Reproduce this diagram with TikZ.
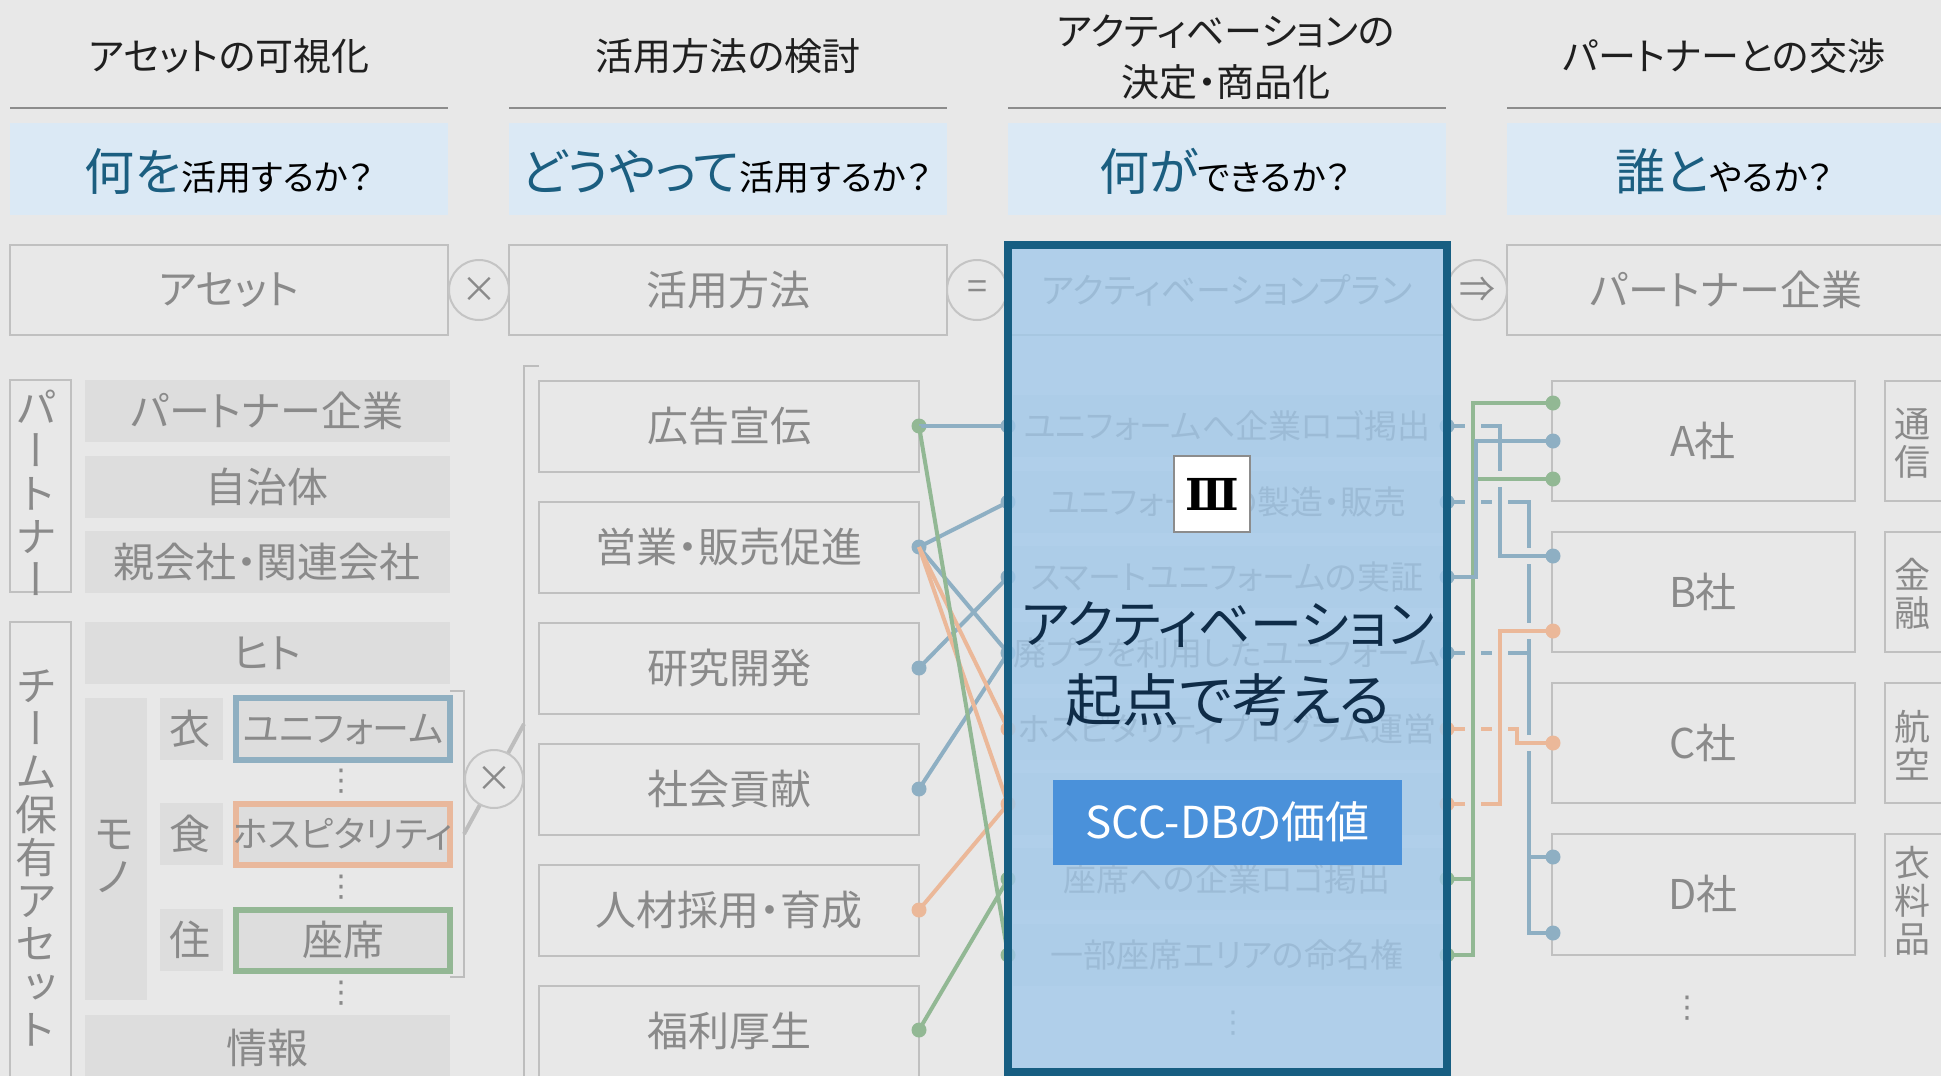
\documentclass[tikz,border=0pt]{standalone}
\usepackage{fontspec}
\setmainfont{Noto Sans CJK JP}[RawFeature=+palt]
\newfontfamily\jpv{Noto Sans CJK JP}[RawFeature=+vert]
\newfontfamily\dvserif{DejaVu Serif}
\newfontfamily\dvsans{DejaVu Sans}
\newcommand\fsz[2]{\fontsize{#1}{#2}\selectfont}
\definecolor{bgc}{HTML}{E8E8E8}
\definecolor{boxgray}{HTML}{DDDDDD}
\definecolor{txtgray}{HTML}{8A8A8A}
\definecolor{bordergray}{HTML}{C0C0C0}
\definecolor{circgray}{HTML}{C4C4C4}
\definecolor{brkgray}{HTML}{BDBDBD}
\definecolor{hline}{HTML}{8C8C8C}
\definecolor{qfill}{HTML}{DBE9F5}
\definecolor{qblue}{HTML}{1B5E80}
\definecolor{cblue}{HTML}{8EAFC3}
\definecolor{corange}{HTML}{EBB899}
\definecolor{cgreen}{HTML}{92B894}
\definecolor{cframe}{HTML}{175E82}
\definecolor{ovl}{RGB}{161,201,235}
\definecolor{navy}{HTML}{0F2C48}
\definecolor{sccblue}{HTML}{4A91DA}
\definecolor{uniB}{HTML}{8FAFC1}
\definecolor{hospO}{HTML}{E9B89C}
\definecolor{seatG}{HTML}{93B794}
\begin{document}
\begin{tikzpicture}[x=1pt,y=-1pt,
  every node/.style={inner sep=0pt,outer sep=0pt},
  title/.style={font=\fsz{38}{51}, text=black!88, align=center},
  hdl/.style={draw=hline, line width=2.5},
  rowbox/.style={draw=bordergray, line width=2},
  glabel/.style={text=txtgray, font=\fsz{41}{41}},
  vlabel/.style={text=txtgray, font=\jpv\fsz{42}{43}, align=center},
  clabel/.style={text=txtgray, font=\jpv\fsz{36}{38}, align=center},
  plan/.style={text=txtgray, font=\fsz{33}{33}},
  vdts/.style={text=txtgray, font=\dvsans\fsz{30}{30}},
  opc/.style={circle, draw=circgray, line width=2, fill=bgc, minimum size=60, text=txtgray, font=\fsz{36}{36}},
  brk/.style={draw=brkgray, line width=2.5},
  conn/.style={line width=4},
  halo/.style={preaction={draw=bgc, line width=16}},
  dot/.style={circle, minimum size=15},
]
\useasboundingbox (0,0) rectangle (1941,1076);
\fill[bgc] (0,0) rectangle (1941,1076);

% ---------- headers ----------
\node[title] (h1) at (229,56) {アセットの可視化};
\node[title] (h2) at (728,56) {活用方法の検討};
\node[title] (h3) at (1226,57) {アクティベーションの\\決定・商品化};
\node[title] (h4) at (1724,56) {パートナーとの交渉};
\draw[hdl] (10,108) -- (448,108);
\draw[hdl] (509,108) -- (947,108);
\draw[hdl] (1008,108) -- (1446,108);
\draw[hdl] (1507,108) -- (1941,108);

% ---------- question boxes ----------
\fill[qfill] (10,123) rectangle (448,215);
\fill[qfill] (509,123) rectangle (947,215);
\fill[qfill] (1008,123) rectangle (1446,215);
\fill[qfill] (1507,123) rectangle (1941,215);
\node[anchor=base] (q1) at (229,190) {\textcolor{qblue}{\fsz{50}{50}何を}\fsz{35}{35}活用するか？};
\node[anchor=base] (q2) at (726,190) {\textcolor{qblue}{\fsz{50}{50}どうやって}\fsz{35}{35}活用するか？};
\node[anchor=base] (q3) at (1225,190) {\textcolor{qblue}{\fsz{50}{50}何が}\fsz{35}{35}できるか？};
\node[anchor=base] (q4) at (1724,190) {\textcolor{qblue}{\fsz{50}{50}誰と}\fsz{35}{35}やるか？};

% ---------- row header boxes ----------
\draw[rowbox] (10,245) rectangle (448,335);
\node[glabel] (r1) at (229,290) {アセット};
\draw[rowbox] (509,245) rectangle (947,335);
\node[glabel] (r2) at (728,290) {活用方法};
\draw[rowbox] (1008,245) rectangle (1446,335);
\node[glabel, font=\fsz{35}{35}] (r3) at (1227,290) {アクティベーションプラン};
\draw[rowbox] (1507,245) rectangle (1960,335);
\node[glabel] (r4) at (1726,290) {パートナー企業};
\node[opc] (op1) at (479,290) {×};
\node[opc] (op2) at (977,290) {=};
\node[opc] (op3) at (1477,290) {⇒};

% ---------- asset column ----------
\draw[rowbox] (10,380) rectangle (71,592);
\node[vlabel] (vp) at (36,493) {パ\\ー\\ト\\ナ\\ー};
\draw[rowbox] (10,622) rectangle (71,1090);
\node[vlabel] (vt) at (36,858) {チ\\ー\\ム\\保\\有\\ア\\セ\\ッ\\ト};
\fill[boxgray] (85,380) rectangle (450,442);
\node[glabel] (pa1) at (267,411) {パートナー企業};
\fill[boxgray] (85,456) rectangle (450,518);
\node[glabel] (pa2) at (267,487) {自治体};
\fill[boxgray] (85,531) rectangle (450,593);
\node[glabel] (pa3) at (267,562) {親会社・関連会社};
\fill[boxgray] (85,622) rectangle (450,684);
\node[glabel] (hito) at (267,653) {ヒト};
\fill[boxgray] (85,698) rectangle (147,1000);
\node[vlabel] (mono) at (114,856) {モ\\ノ};
\fill[boxgray] (85,1015) rectangle (450,1090);
\node[glabel] (joho) at (267,1048) {情報};
\fill[boxgray] (160,698) rectangle (223,760);
\node[glabel] (i1) at (190,729) {衣};
\fill[boxgray] (160,803) rectangle (223,865);
\node[glabel] (i2) at (190,834) {食};
\fill[boxgray] (160,909) rectangle (223,971);
\node[glabel] (i3) at (190,940) {住};
\draw[draw=uniB, line width=6, fill=boxgray] (236,698) rectangle (450,760);
\node[glabel, font=\fsz{37}{37}] (m1) at (343,729) {ユニフォーム};
\draw[draw=hospO, line width=6, fill=boxgray] (236,804) rectangle (450,865);
\node[glabel, font=\fsz{36}{36}] (m2) at (343,834) {ホスピタリティ};
\draw[draw=seatG, line width=6, fill=boxgray] (236,910) rectangle (450,971);
\node[glabel] (m3) at (343,940) {座席};
\node[vdts] (e1) at (341,781) {⋮};
\node[vdts] (e2) at (341,887) {⋮};
\node[vdts] (e3) at (341,993) {⋮};
\draw[brk] (450,691) -- (464,691) -- (464,977) -- (450,977);
\coordinate (bm1) at (464,834);
\draw[brk] (539,366) -- (524,366) -- (524,1090);
\coordinate (bm2) at (524,724);
\draw[brk, line width=4] (bm1) -- (bm2);
\node[opc, minimum size=58] (op4) at (494,779) {×};

% ---------- method column ----------
\draw[rowbox] (539,381) rectangle (919,472);
\node[glabel] (k1) at (729,426) {広告宣伝};
\draw[rowbox] (539,502) rectangle (919,593);
\node[glabel] (k2) at (729,547) {営業・販売促進};
\draw[rowbox] (539,623) rectangle (919,714);
\node[glabel] (k3) at (729,668) {研究開発};
\draw[rowbox] (539,744) rectangle (919,835);
\node[glabel] (k4) at (729,789) {社会貢献};
\draw[rowbox] (539,865) rectangle (919,956);
\node[glabel] (k5) at (729,910) {人材採用・育成};
\draw[rowbox] (539,986) rectangle (919,1090);
\node[glabel] (k6) at (729,1031) {福利厚生};

% ---------- plan column (under the overlay) ----------
\foreach \yy in {426,502,577,653,729,804,879,955}
  \fill[boxgray] (1013,\yy-31) rectangle (1443,\yy+31);
\node[plan] (p1) at (1227,426) {ユニフォームへ企業ロゴ掲出};
\node[plan] (p2) at (1227,502) {ユニフォームの製造・販売};
\node[plan] (p3) at (1227,577) {スマートユニフォームの実証};
\node[plan] (p4) at (1227,653) {廃プラを利用したユニフォーム};
\node[plan] (p5) at (1227,729) {ホスピタリティプログラム運営};
\node[plan] (p7) at (1227,879) {座席への企業ロゴ掲出};
\node[plan] (p8) at (1227,955) {一部座席エリアの命名権};
\node[vdts] (e4) at (1233,1023) {⋮};

% ---------- partner column ----------
\node[glabel] (ca) at (1703,441) {A社};
\node[glabel] (cb) at (1703,592) {B社};
\node[glabel] (cc) at (1703,743) {C社};
\node[glabel] (cd) at (1703,894) {D社};
\draw[rowbox] (1885,381) rectangle (1960,501);
\node[clabel] (g1) at (1912,443) {通\\信};
\draw[rowbox] (1885,532) rectangle (1960,652);
\node[clabel] (g2) at (1912,594) {金\\融};
\draw[rowbox] (1885,683) rectangle (1960,803);
\node[clabel] (g3) at (1912,745) {航\\空};
\draw[rowbox] (1885,834) rectangle (1960,1000);
\node[clabel] (g4) at (1912,901) {衣\\料\\品};
\fill[bgc] (1880,957) rectangle (1945,1010);
\node[vdts] (e5) at (1687,1008) {⋮};

% ---------- dots (positions) ----------
\node[dot, fill=cgreen] (u1) at (919,426) {};
\node[dot, fill=cblue] (u2) at (919,547) {};
\node[dot, fill=cblue] (u3) at (919,668) {};
\node[dot, fill=cblue] (u4) at (919,789) {};
\node[dot, fill=corange] (u5) at (919,910) {};
\node[dot, fill=cgreen] (u6) at (919,1030) {};
\node[dot, fill=cblue] (pl1) at (1008,426) {};
\node[dot, fill=cblue] (pl2) at (1008,502) {};
\node[dot, fill=cblue] (pl3) at (1008,577) {};
\node[dot, fill=cblue] (pl4) at (1008,653) {};
\node[dot, fill=corange] (pl5) at (1008,729) {};
\node[dot, fill=corange] (pl6) at (1008,804) {};
\node[dot, fill=cgreen] (pl7) at (1008,879) {};
\node[dot, fill=cgreen] (pl8) at (1008,955) {};
\coordinate (pr1) at (1447,426);
\coordinate (pr2) at (1447,502);
\coordinate (pr3) at (1447,577);
\coordinate (pr4) at (1447,653);
\coordinate (pr5) at (1447,729);
\coordinate (pr6) at (1447,804);
\coordinate (pr7) at (1447,879);
\coordinate (pr8) at (1447,955);
\coordinate (a1) at (1553,403);
\coordinate (a2) at (1553,441);
\coordinate (a3) at (1553,479);
\coordinate (b1) at (1553,556);
\coordinate (b2) at (1553,631);
\coordinate (c1) at (1553,743);
\coordinate (d1) at (1553,857);
\coordinate (d2) at (1553,933);
\coordinate (gx) at (1473,0);
\coordinate (bx3) at (1476,0);
\coordinate (bx1) at (1500,0);
\coordinate (ox5) at (1517,0);
\coordinate (bx2) at (1529,0);

% ---------- left connectors ----------
\draw[conn, cblue] (u1.center) -- (pl1.center);
\draw[conn, cblue] (u2.center) -- (pl2.center);
\draw[conn, cblue] (u2.center) -- (pl4.center);
\draw[conn, cblue] (u3.center) -- (pl3.center);
\draw[conn, cblue] (u4.center) -- (pl4.center);
\draw[conn, corange] (u2.center) -- (pl5.center);
\draw[conn, corange] (u2.center) -- (pl6.center);
\draw[conn, corange] (u5.center) -- (pl6.center);
\draw[conn, cgreen] (u1.center) -- (pl8.center);
\draw[conn, cgreen] (u6.center) -- (pl7.center);

% ---------- right connectors ----------
\draw[conn, cblue] (pr2) -- (pr2 -| bx2) -- (d2 -| bx2) -- (d2)
  (d1 -| bx2) -- (d1) (pr4) -- (pr4 -| bx2);
\draw[conn, corange, halo] (pr5) -- (pr5 -| ox5) -- (c1 -| ox5) -- (c1);
\draw[conn, corange, halo] (pr6) -- (pr6 -| bx1) -- (b2 -| bx1) -- (b2);
\draw[conn, cblue, halo] (pr1) -- (pr1 -| bx1) -- (b1 -| bx1) -- (b1);
\draw[conn, cgreen, halo] (a1) -- (a1 -| gx) -- (pr8 -| gx) -- (pr8)
  (a3 -| gx) -- (a3) (pr7) -- (pr7 -| gx);
\draw[conn, cblue] (pr3) -- (pr3 -| bx3) -- (a2 -| bx3) -- (a2);

% company boxes (after the connectors)
\draw[rowbox] (1552,381) rectangle (1855,501);
\draw[rowbox] (1552,532) rectangle (1855,652);
\draw[rowbox] (1552,683) rectangle (1855,803);
\draw[rowbox] (1552,834) rectangle (1855,955);

\node[dot, fill=cblue] (dpr1) at (pr1) {};
\node[dot, fill=cblue] (dpr2) at (pr2) {};
\node[dot, fill=cblue] (dpr3) at (pr3) {};
\node[dot, fill=cblue] (dpr4) at (pr4) {};
\node[dot, fill=corange] (dpr5) at (pr5) {};
\node[dot, fill=corange] (dpr6) at (pr6) {};
\node[dot, fill=cgreen] (dpr7) at (pr7) {};
\node[dot, fill=cgreen] (dpr8) at (pr8) {};
\node[dot, fill=cgreen] (da1) at (a1) {};
\node[dot, fill=cblue] (da2) at (a2) {};
\node[dot, fill=cgreen] (da3) at (a3) {};
\node[dot, fill=cblue] (db1) at (b1) {};
\node[dot, fill=corange] (db2) at (b2) {};
\node[dot, fill=corange] (dc1) at (c1) {};
\node[dot, fill=cblue] (dd1) at (d1) {};
\node[dot, fill=cblue] (dd2) at (d2) {};

% ---------- overlay ----------
\fill[ovl, fill opacity=0.79] (1008,245) rectangle (1447,1072);
\draw[cframe, line width=8] (1008,245) rectangle (1447,1072);

\node[draw=hline, line width=2.5, fill=white, minimum width=76, minimum height=76,
      font=\dvserif\bfseries\fsz{44}{44}] (rom) at (1212,494) {Ⅲ};
\node[text=navy, align=center, font=\fsz{52}{75}] (act1) at (1228,625) {アクティベーション};
\node[text=navy, align=center, font=\fsz{57}{75}] (act2) at (1228,700) {起点で考える};
\node[fill=sccblue, minimum width=349, minimum height=85, text=white,
      font=\fsz{44}{44}] (scc) at (1227.5,822) {SCC-DBの価値};
\end{tikzpicture}
\end{document}
